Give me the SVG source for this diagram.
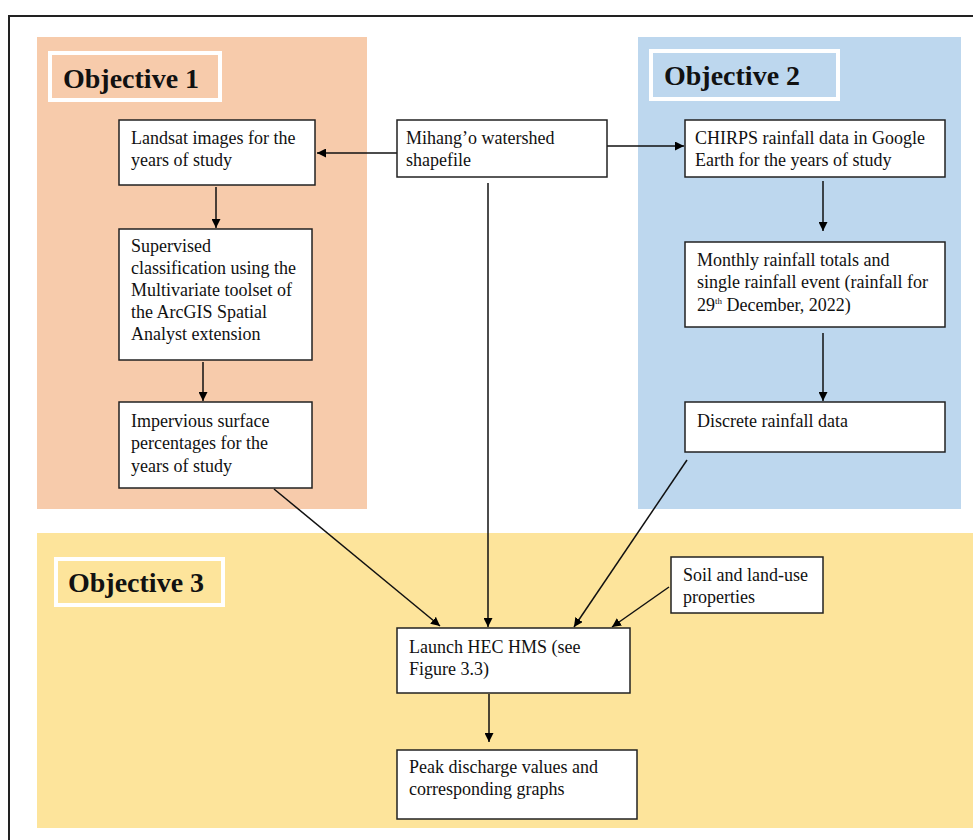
<svg xmlns="http://www.w3.org/2000/svg" width="973" height="840" viewBox="0 0 973 840">
<defs>
<marker id="ah" viewBox="0 0 10 10" refX="10" refY="5" markerWidth="9" markerHeight="9" markerUnits="userSpaceOnUse" orient="auto">
<path d="M0,0 L10,5 L0,10 z" fill="#000"/>
</marker>
<style>
.box{fill:#fff;stroke:#222;stroke-width:1.5}
.t{font-family:"Liberation Serif","Times New Roman",serif;font-size:18px;fill:#111}
.obj{font-family:"Liberation Serif","Times New Roman",serif;font-size:28px;font-weight:bold;fill:#111}
.lbl{stroke:#fff;stroke-width:4}
.c{stroke:#111;stroke-width:1.5;fill:none;marker-end:url(#ah)}
</style>
</defs>
<rect x="0" y="0" width="973" height="840" fill="#fff"/>
<path d="M9,840 L9,16 L973,16" fill="none" stroke="#222" stroke-width="2"/>
<g id="panels">
<rect x="37" y="37" width="330" height="472" fill="#f7cbab"/>
<rect x="638" y="37" width="323" height="472" fill="#bdd7ee"/>
<rect x="37" y="533" width="936" height="295" fill="#fde49b"/>
</g>
<g id="obj1"><rect class="lbl" x="50" y="53" width="170" height="47" fill="#f7cbab"/><text class="obj" x="63" y="88">Objective 1</text></g>
<g id="obj2"><rect class="lbl" x="651" y="51" width="187" height="48" fill="#bdd7ee"/><text class="obj" x="664" y="85">Objective 2</text></g>
<g id="obj3"><rect class="lbl" x="56" y="559" width="167" height="46" fill="#fde49b"/><text class="obj" x="68" y="592">Objective 3</text></g>
<g id="connectors">
<line class="c" x1="397" y1="153" x2="317" y2="153"/>
<line class="c" x1="607" y1="146" x2="684" y2="146"/>
<line class="c" x1="488" y1="183" x2="488" y2="627"/>
<line class="c" x1="216" y1="187" x2="216" y2="228"/>
<line class="c" x1="203" y1="362" x2="203" y2="401"/>
<line class="c" x1="823" y1="181" x2="823" y2="231"/>
<line class="c" x1="823" y1="333" x2="823" y2="401"/>
<line class="c" x1="274" y1="489" x2="440" y2="626"/>
<line class="c" x1="687" y1="460" x2="574" y2="627"/>
<line class="c" x1="669" y1="587" x2="612" y2="627"/>
<line class="c" x1="489" y1="694" x2="489" y2="742"/>
</g>
<g id="landsat"><rect class="box" x="119" y="120" width="196" height="65"/><text class="t" x="131" y="144">Landsat images for the</text><text class="t" x="131" y="166">years of study</text></g>
<g id="supervised"><rect class="box" x="119" y="229" width="193" height="131"/><text class="t" x="131" y="252">Supervised</text><text class="t" x="131" y="274">classification using the</text><text class="t" x="131" y="296">Multivariate toolset of</text><text class="t" x="131" y="318">the ArcGIS Spatial</text><text class="t" x="131" y="340">Analyst extension</text></g>
<g id="impervious"><rect class="box" x="119" y="402" width="193" height="86"/><text class="t" x="131" y="427">Impervious surface</text><text class="t" x="131" y="449">percentages for the</text><text class="t" x="131" y="472">years of study</text></g>
<g id="mihango"><rect class="box" x="397" y="120" width="210" height="57"/><text class="t" x="406" y="144">Mihang’o watershed</text><text class="t" x="406" y="166">shapefile</text></g>
<g id="chirps"><rect class="box" x="685" y="120" width="260" height="57"/><text class="t" x="695" y="144">CHIRPS rainfall data in Google</text><text class="t" x="695" y="166">Earth for the years of study</text></g>
<g id="monthly"><rect class="box" x="685" y="242" width="260" height="85"/><text class="t" x="697" y="266">Monthly rainfall totals and</text><text class="t" x="697" y="288">single rainfall event (rainfall for</text><text class="t" x="697" y="311">29<tspan font-size="9" dy="-7">th</tspan><tspan dy="7"> December, 2022)</tspan></text></g>
<g id="discrete"><rect class="box" x="685" y="402" width="260" height="50"/><text class="t" x="697" y="427">Discrete rainfall data</text></g>
<g id="soil"><rect class="box" x="671" y="557" width="152" height="56"/><text class="t" x="683" y="581">Soil and land-use</text><text class="t" x="683" y="603">properties</text></g>
<g id="launch"><rect class="box" x="397" y="628" width="233" height="65"/><text class="t" x="409" y="653">Launch HEC HMS (see</text><text class="t" x="409" y="675">Figure 3.3)</text></g>
<g id="peak"><rect class="box" x="397" y="750" width="240" height="69"/><text class="t" x="409" y="773">Peak discharge values and</text><text class="t" x="409" y="795">corresponding graphs</text></g>
</svg>
